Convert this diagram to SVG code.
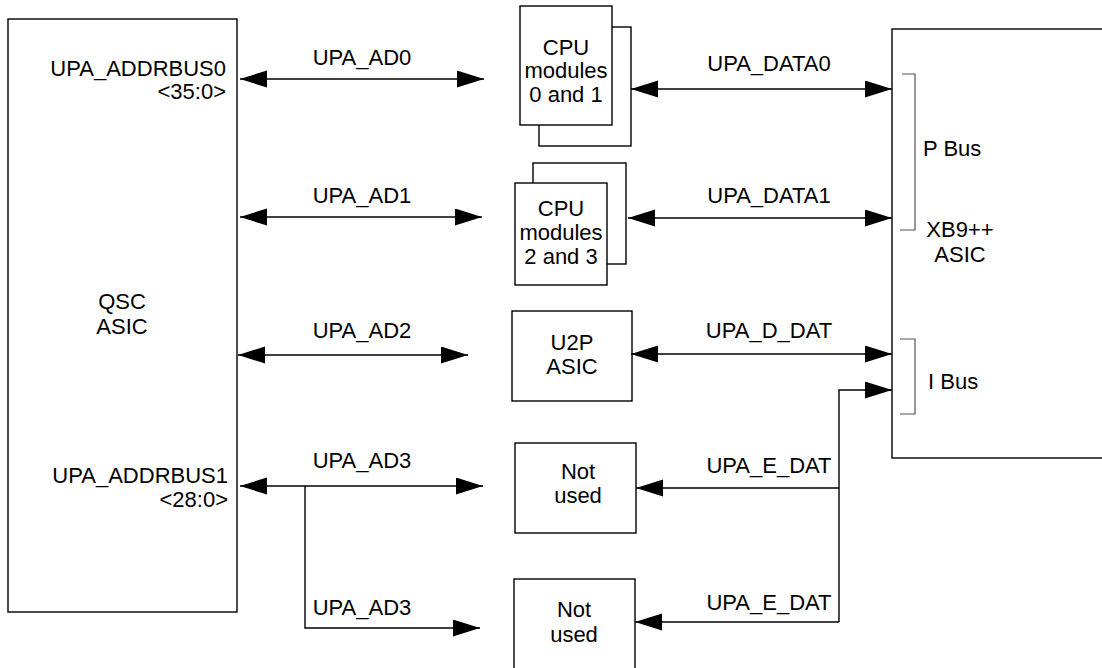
<svg xmlns="http://www.w3.org/2000/svg" width="1102" height="668" viewBox="0 0 1102 668">
<style>
.box{fill:#fff;stroke:#000;stroke-width:1.4}
.ln{fill:none;stroke:#000;stroke-width:1.4}
.br{fill:none;stroke:#555;stroke-width:1.2}
text{font-family:"Liberation Sans",Arial,sans-serif;font-size:22px;fill:#000}
.c{text-anchor:middle}
.r{text-anchor:end}
</style>
<defs>
<marker id="a" markerUnits="userSpaceOnUse" markerWidth="28" markerHeight="18" refX="27" refY="8.5" orient="auto-start-reverse">
<path d="M0,0 L27,8.5 L0,17 z" fill="#000"/>
</marker>
</defs>
<rect width="1102" height="668" fill="#fff"/>
<g id="qsc">
<rect class="box" x="8" y="19" width="229" height="593"/>
<text class="r" x="226" y="76">UPA_ADDRBUS0</text>
<text class="r" x="226" y="99">&lt;35:0&gt;</text>
<text class="c" x="122" y="309">QSC</text>
<text class="c" x="122" y="334">ASIC</text>
<text class="r" x="228" y="483">UPA_ADDRBUS1</text>
<text class="r" x="228" y="507">&lt;28:0&gt;</text>
</g>
<g id="cpu01">
<rect class="box" x="539" y="27" width="92" height="119"/>
<rect class="box" x="520" y="6" width="92" height="119"/>
<text class="c" x="566" y="55">CPU</text>
<text class="c" x="566" y="78">modules</text>
<text class="c" x="566" y="102">0 and 1</text>
</g>
<g id="cpu23">
<rect class="box" x="533" y="163" width="93" height="101"/>
<rect class="box" x="515" y="183" width="92" height="102"/>
<text class="c" x="561" y="216">CPU</text>
<text class="c" x="561" y="240">modules</text>
<text class="c" x="561" y="264">2 and 3</text>
</g>
<g id="u2p">
<rect class="box" x="512" y="311" width="120" height="90"/>
<text class="c" x="572" y="350">U2P</text>
<text class="c" x="572" y="374">ASIC</text>
</g>
<g id="notused1">
<rect class="box" x="515" y="443" width="121" height="90"/>
<text class="c" x="578" y="479">Not</text>
<text class="c" x="578" y="503">used</text>
</g>
<g id="notused2">
<rect class="box" x="514" y="579" width="121" height="95"/>
<text class="c" x="574" y="617">Not</text>
<text class="c" x="574" y="642">used</text>
</g>
<g id="xb9">
<rect class="box" x="892" y="29" width="220" height="429"/>
<path class="br" d="M902,74 H915 V230 H900"/>
<path class="br" d="M900,339 H915 V414 H900"/>
<text x="923" y="156">P Bus</text>
<text class="c" x="960" y="237">XB9++</text>
<text class="c" x="960" y="262">ASIC</text>
<text x="928" y="389">I Bus</text>
</g>
<g id="connectors">
<line class="ln" x1="240" y1="79" x2="484" y2="79" marker-start="url(#a)" marker-end="url(#a)"/>
<line class="ln" x1="240" y1="217" x2="482" y2="217" marker-start="url(#a)" marker-end="url(#a)"/>
<line class="ln" x1="238" y1="355" x2="468" y2="355" marker-start="url(#a)" marker-end="url(#a)"/>
<line class="ln" x1="240" y1="486" x2="483" y2="486" marker-start="url(#a)" marker-end="url(#a)"/>
<path class="ln" d="M305,486 V628 H480" marker-end="url(#a)"/>
<line class="ln" x1="631" y1="89" x2="892" y2="89" marker-start="url(#a)" marker-end="url(#a)"/>
<line class="ln" x1="628" y1="218" x2="892" y2="218" marker-start="url(#a)" marker-end="url(#a)"/>
<line class="ln" x1="631" y1="354" x2="892" y2="354" marker-start="url(#a)" marker-end="url(#a)"/>
<path class="ln" d="M839,622 V390 H892" marker-end="url(#a)"/>
<path class="ln" d="M839,488 H636" marker-end="url(#a)"/>
<path class="ln" d="M839,622 H635" marker-end="url(#a)"/>
<text class="c" x="362" y="65">UPA_AD0</text>
<text class="c" x="362" y="203">UPA_AD1</text>
<text class="c" x="362" y="338">UPA_AD2</text>
<text class="c" x="362" y="468">UPA_AD3</text>
<text class="c" x="362" y="615">UPA_AD3</text>
<text class="c" x="769" y="71">UPA_DATA0</text>
<text class="c" x="769" y="203">UPA_DATA1</text>
<text class="c" x="769" y="338">UPA_D_DAT</text>
<text class="c" x="769" y="473">UPA_E_DAT</text>
<text class="c" x="769" y="610">UPA_E_DAT</text>
</g>
</svg>
